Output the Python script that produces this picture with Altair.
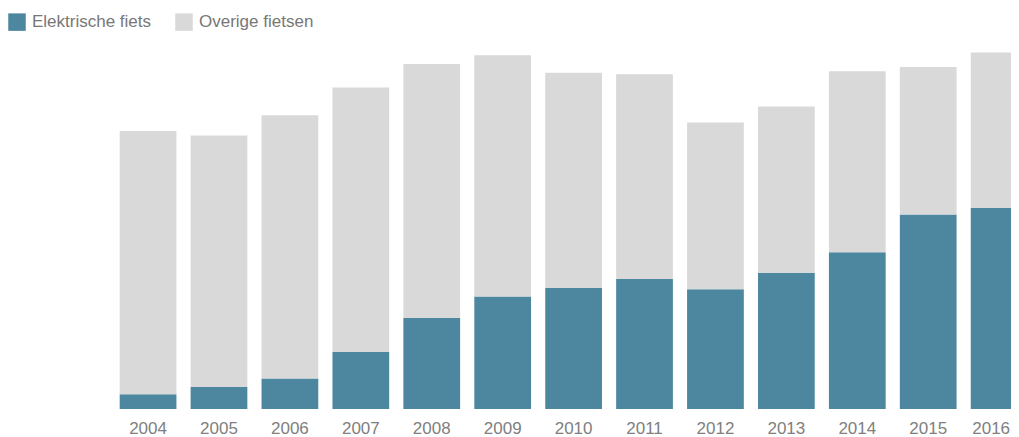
import altair as alt
import pandas as pd

years = [str(y) for y in range(2004, 2017)]
elektrisch = [39, 58, 80, 150, 239, 296, 319, 342, 315, 358, 412, 511, 529]
overig = [692, 661, 692, 695, 668, 634, 565, 538, 438, 437, 476, 388, 408]
series = ["Elektrische fiets", "Overige fietsen"]
colors = ["#4c869f", "#d9d9d9"]

rows = []
for i, y in enumerate(years):
    rows.append({"jaar": y, "soort": series[0], "waarde": elektrisch[i], "volgorde": 0})
    rows.append({"jaar": y, "soort": series[1], "waarde": overig[i], "volgorde": 1})
df = pd.DataFrame(rows)

chart = alt.Chart(df).mark_bar(clip=True).encode(
    x=alt.X(
        "jaar:N",
        scale=alt.Scale(range=[104.6, 1026.6], paddingInner=0.2, paddingOuter=0.1),
        axis=alt.Axis(
            title=None, ticks=False, tickSize=0, domain=False, labelAngle=0,
            labelFont="Liberation Sans", labelFontSize=17, labelColor="#808080",
            labelBaseline="alphabetic", labelPadding=24,
            labelOffset={"condition": {"test": "datum.value == '2016'", "value": -8}, "value": 0},
        ),
    ),
    y=alt.Y("waarde:Q", stack="zero", scale=alt.Scale(domain=[0, 1054], nice=False), axis=None),
    color=alt.Color(
        "soort:N",
        scale=alt.Scale(domain=series, range=colors),
        legend=alt.Legend(
            orient="none", legendX=0, legendY=5, direction="horizontal", title=None,
            symbolType="square", symbolSize=306, symbolStrokeWidth=0, symbolOpacity=1,
            labelFont="Liberation Sans", labelFontSize=17, labelColor="#777777",
            labelOffset=6, columnPadding=23,
        ),
    ),
    order=alt.Order("volgorde:Q"),
).properties(
    width=1003, height=401,
    autosize=alt.AutoSizeParams(type="none"),
    padding={"left": 0, "top": 0, "right": 0, "bottom": 28},
).configure_view(stroke=None)

chart.save("out.html", embed_options={"renderer": "svg", "actions": False})
